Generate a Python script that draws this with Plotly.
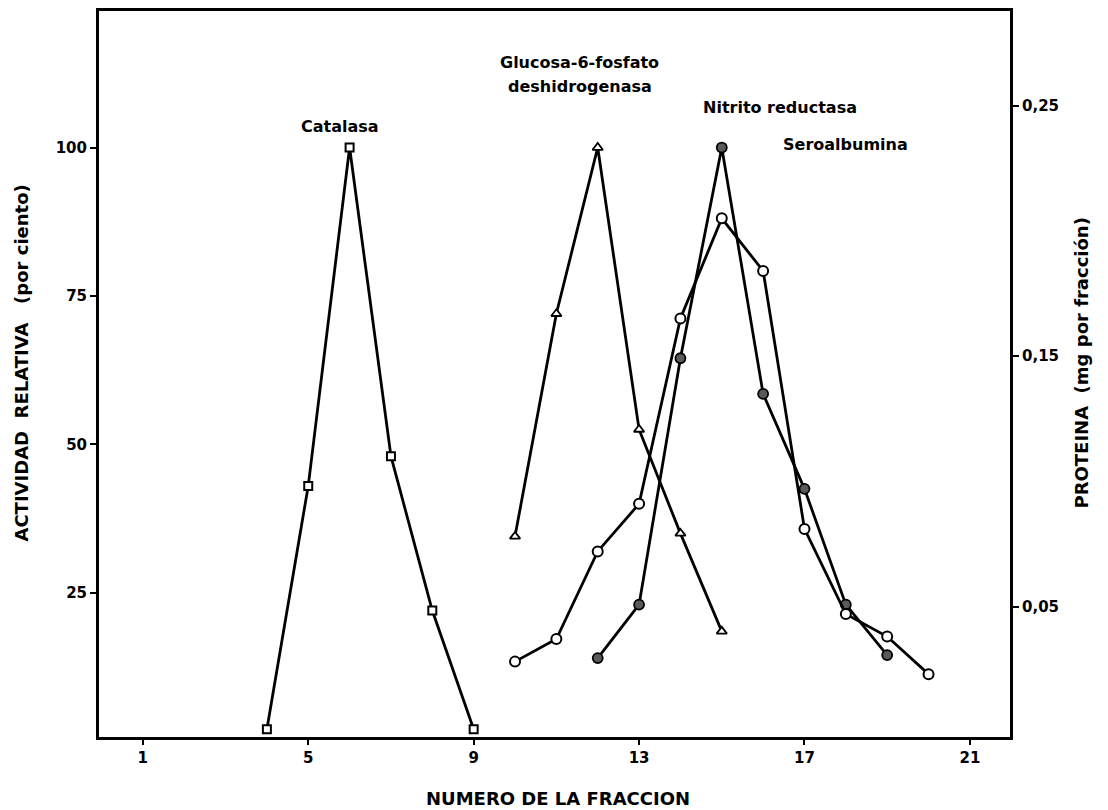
import plotly.graph_objects as go

# Fraction numbers and measured values for each profile
catalasa_x = [4, 5, 6, 7, 8, 9]
catalasa_y = [2, 43, 100, 48, 22, 2]

g6pdh_x = [10, 11, 12, 13, 14, 15]
g6pdh_y = [34.5, 72, 100, 52.5, 35, 18.5]

nitrito_x = [12, 13, 14, 15, 16, 17, 18, 19]
nitrito_y = [14, 23, 64.5, 100, 58.5, 42.5, 23, 14.5]

# Seroalbumin protein content (mg per fraction), right-hand axis
seroalb_x = [10, 11, 12, 13, 14, 15, 16, 17, 18, 19, 20]
seroalb_mg = [0.028, 0.037, 0.072, 0.091, 0.165, 0.205, 0.184, 0.081, 0.047, 0.038, 0.023]

x_ticks = [1, 5, 9, 13, 17, 21]
left_ticks = [25, 50, 75, 100]
right_ticks = [0.05, 0.15, 0.25]
right_tick_text = ["0,05", "0,15", "0,25"]

FONT = "DejaVu Sans"
LW = 2.8

fig = go.Figure()

fig.add_trace(go.Scatter(
    x=catalasa_x, y=catalasa_y, mode="lines+markers",
    line=dict(color="black", width=LW),
    marker=dict(symbol="square", size=8, color="white", line=dict(color="black", width=2)),
    showlegend=False))

fig.add_trace(go.Scatter(
    x=g6pdh_x, y=g6pdh_y, mode="lines+markers",
    line=dict(color="black", width=LW),
    marker=dict(symbol="triangle-up", size=9, color="white", line=dict(color="black", width=1.8)),
    showlegend=False))

fig.add_trace(go.Scatter(
    x=seroalb_x, y=seroalb_mg, mode="lines+markers", yaxis="y2",
    line=dict(color="black", width=LW),
    marker=dict(symbol="circle", size=10, color="white", line=dict(color="black", width=2)),
    showlegend=False))

fig.add_trace(go.Scatter(
    x=nitrito_x, y=nitrito_y, mode="lines+markers",
    line=dict(color="black", width=LW),
    marker=dict(symbol="circle", size=10, color="#5a5a5a", line=dict(color="black", width=1.8)),
    showlegend=False))

tickfont = dict(family=FONT, size=15, color="black", weight="bold")

fig.update_layout(
    width=1108, height=810,
    margin=dict(l=99, r=98, t=8, b=73),
    paper_bgcolor="white", plot_bgcolor="white",
    xaxis=dict(
        range=[-0.06, 21.97], tickvals=x_ticks, ticks="outside", ticklen=5,
        tickwidth=2, tickcolor="black", showgrid=False, zeroline=False,
        showline=True, linecolor="black", linewidth=3, mirror=True,
        tickfont=tickfont),
    yaxis=dict(
        range=[0.7, 123], tickvals=left_ticks, ticks="outside", ticklen=6,
        tickwidth=2, tickcolor="black", showgrid=False, zeroline=False,
        showline=True, linecolor="black", linewidth=3, mirror=True,
        tickfont=tickfont),
    yaxis2=dict(
        overlaying="y", side="right", range=[-0.0021, 0.2878],
        tickvals=right_ticks, ticktext=right_tick_text, ticks="outside",
        ticklen=6, tickwidth=2, tickcolor="black", showgrid=False,
        zeroline=False, showline=True, linecolor="black", linewidth=3,
        tickfont=tickfont),
)

lab = dict(family=FONT, size=16, color="black", weight="bold")
ann = [
    dict(x=5.76, y=103.5, text="Catalasa"),
    dict(x=11.57, y=114.3, text="Glucosa-6-fosfato"),
    dict(x=11.57, y=110.2, text="deshidrogenasa"),
    dict(x=16.4, y=106.7, text="Nitrito reductasa"),
    dict(x=18.0, y=100.5, text="Seroalbumina"),
]
for a in ann:
    fig.add_annotation(x=a["x"], y=a["y"], xref="x", yref="y", text=a["text"],
                       showarrow=False, font=lab, xanchor="center", yanchor="middle")

title_font = dict(family=FONT, size=18, color="black", weight="bold")
fig.add_annotation(xref="paper", yref="paper", x=(22 - 99) / 911, y=(737 - 362) / 729,
                   text="ACTIVIDAD  RELATIVA   (por ciento)", textangle=-90,
                   showarrow=False, font=title_font, xanchor="center", yanchor="middle")
fig.add_annotation(xref="paper", yref="paper", x=(1082 - 99) / 911, y=(737 - 362) / 729,
                   text="PROTEINA  (mg por fracción)", textangle=-90,
                   showarrow=False, font=title_font, xanchor="center", yanchor="middle")
fig.add_annotation(xref="paper", yref="paper", x=(558 - 99) / 911, y=(737 - 799) / 729,
                   text="NUMERO DE LA FRACCION", showarrow=False, font=title_font,
                   xanchor="center", yanchor="middle")

fig.write_html("out.html")
